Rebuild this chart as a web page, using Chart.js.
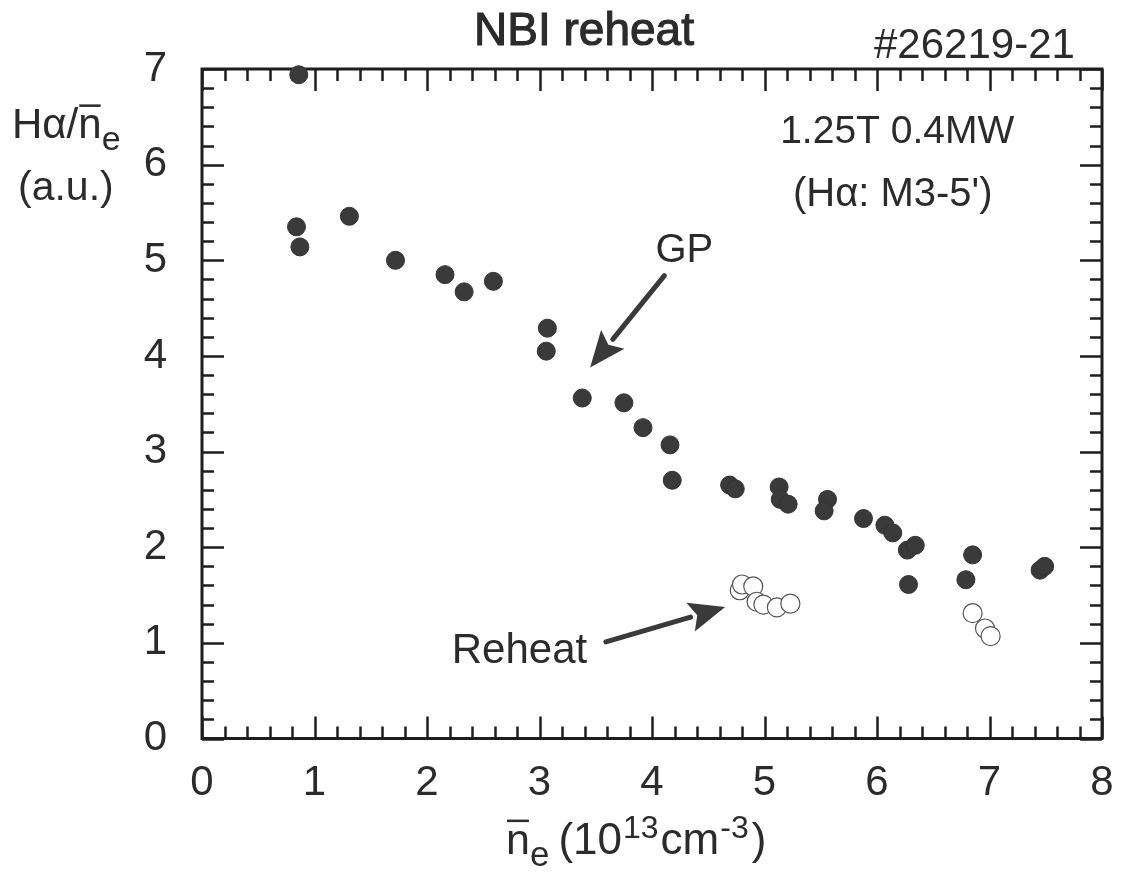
<!DOCTYPE html>
<html>
<head>
<meta charset="utf-8">
<script src="https://cdn.jsdelivr.net/npm/chart.js@4.4.1/dist/chart.umd.min.js"></script>
<style>
  html, body { margin: 0; padding: 0; background: #fff; }
  #wrap { width: 1125px; height: 878px; }
</style>
</head>
<body>
<div id="wrap"><canvas id="hAlpha" width="1125" height="878"></canvas></div>
<script>
// GP discharges (filled) and reheat phase (open), x = line density, y = Halpha / ne
const gpDens = [0.86, 0.84, 0.87, 1.31, 1.72, 2.16, 2.33, 2.59, 3.07, 3.06, 3.38, 3.75, 3.92, 4.16, 4.18, 4.69, 4.74, 5.13, 5.14, 5.21, 5.56, 5.53, 5.88, 6.07, 6.14, 6.27, 6.34, 6.28, 6.85, 6.79, 7.45, 7.49];
const gpHa   = [6.94, 5.35, 5.14, 5.46, 5.00, 4.85, 4.67, 4.78, 4.29, 4.05, 3.56, 3.51, 3.25, 3.07, 2.70, 2.65, 2.61, 2.63, 2.50, 2.45, 2.50, 2.38, 2.30, 2.23, 2.15, 1.97, 2.02, 1.61, 1.92, 1.66, 1.76, 1.80];
const reheatDens = [4.78, 4.80, 4.90, 4.93, 4.99, 5.11, 5.23, 6.85, 6.96, 7.01];
const reheatHa   = [1.55, 1.61, 1.59, 1.43, 1.40, 1.37, 1.41, 1.31, 1.15, 1.07];
const xTicks = [0, 1, 2, 3, 4, 5, 6, 7, 8];
const yTicks = [0, 1, 2, 3, 4, 5, 6, 7];

const FONT = "'Liberation Sans', Arial, Helvetica, sans-serif";
const INK = '#2b2b2b';

const toPoints = (xs, ys) => xs.map((x, i) => ({ x: x, y: ys[i] }));

// arrows inside the frame, in data units
const arrows = [
  { from: [4.11, 4.84], to: [3.45, 3.88] },
  { from: [3.59, 1.01], to: [4.65, 1.375] }
];

function drawArrow(ctx, x1, y1, x2, y2) {
  const ang = Math.atan2(y2 - y1, x2 - x1);
  const headLen = 36, headW = 15;
  const bx = x2 - headLen * Math.cos(ang), by = y2 - headLen * Math.sin(ang);
  ctx.save();
  ctx.strokeStyle = '#3a3a3a';
  ctx.fillStyle = '#3a3a3a';
  ctx.lineWidth = 5;
  ctx.lineCap = 'round';
  ctx.beginPath();
  ctx.moveTo(x1, y1);
  ctx.lineTo(bx, by);
  ctx.stroke();
  ctx.beginPath();
  ctx.moveTo(x2, y2);
  ctx.lineTo(bx + headW * Math.sin(ang), by - headW * Math.cos(ang));
  ctx.lineTo(bx + 7 * Math.cos(ang), by + 7 * Math.sin(ang));
  ctx.lineTo(bx - headW * Math.sin(ang), by + headW * Math.cos(ang));
  ctx.closePath();
  ctx.fill();
  ctx.restore();
}

// draws runs of text: {t, size, dy, bar, gap} left to right from x
function drawRuns(ctx, x, y, runs) {
  runs.forEach(r => {
    ctx.font = r.size + 'px ' + FONT;
    const w = ctx.measureText(r.t).width;
    ctx.fillText(r.t, x, y + (r.dy || 0));
    if (r.bar) {
      ctx.fillRect(x + 1, y + (r.dy || 0) - r.size * 0.8, w - 2, 2.5);
    }
    x += w + (r.gap || 0);
  });
}

const frame = {
  id: 'frame',
  beforeDatasetsDraw(chart) {
    const { ctx, chartArea: a, scales: { x, y } } = chart;
    ctx.save();
    ctx.strokeStyle = '#1e1e1e';
    ctx.lineWidth = 2.5;
    // inward ticks on all four sides, minor every 0.2
    for (let i = 0; i <= 40; i++) {
      const px = Math.round(x.getPixelForValue(i * 0.2)) + 0.5;
      const len = i % 5 === 0 ? 22 : 12;
      ctx.beginPath();
      ctx.moveTo(px, a.bottom); ctx.lineTo(px, a.bottom - len);
      ctx.moveTo(px, a.top); ctx.lineTo(px, a.top + len);
      ctx.stroke();
    }
    for (let i = 0; i <= 35; i++) {
      const py = Math.round(y.getPixelForValue(i * 0.2)) + 0.5;
      const len = i % 5 === 0 ? 22 : 12;
      ctx.beginPath();
      ctx.moveTo(a.left, py); ctx.lineTo(a.left + len, py);
      ctx.moveTo(a.right, py); ctx.lineTo(a.right - len, py);
      ctx.stroke();
    }
    ctx.lineWidth = 3;
    ctx.strokeRect(a.left, a.top, a.right - a.left, a.bottom - a.top);
    ctx.restore();
  },
  afterDraw(chart) {
    const { ctx, scales: { x, y } } = chart;
    ctx.save();
    ctx.fillStyle = INK;
    ctx.strokeStyle = INK;
    ctx.textBaseline = 'alphabetic';

    // headings above the frame
    ctx.font = '46px ' + FONT;
    ctx.textAlign = 'center';
    ctx.lineWidth = 1.1;
    ctx.fillText('NBI reheat', 584, 45);
    ctx.strokeText('NBI reheat', 584, 45);
    ctx.font = '42px ' + FONT;
    ctx.textAlign = 'left';
    ctx.fillText('#26219-21', 874, 58);

    // text inside the frame
    ctx.font = '39px ' + FONT;
    ctx.textAlign = 'right';
    ctx.fillText('1.25T 0.4MW', x.getPixelForValue(7.22), y.getPixelForValue(6.23));
    ctx.textAlign = 'center';
    ctx.font = '40px ' + FONT;
    ctx.fillText('(H\u03B1: M3-5\')', x.getPixelForValue(6.14), y.getPixelForValue(5.57));
    ctx.textAlign = 'left';
    ctx.fillText('GP', x.getPixelForValue(4.03), y.getPixelForValue(4.98));
    ctx.font = '42px ' + FONT;
    ctx.fillText('Reheat', x.getPixelForValue(2.22), y.getPixelForValue(0.79));

    arrows.forEach(ar => drawArrow(ctx,
      x.getPixelForValue(ar.from[0]), y.getPixelForValue(ar.from[1]),
      x.getPixelForValue(ar.to[0]), y.getPixelForValue(ar.to[1])));

    // axis titles
    ctx.textAlign = 'left';
    drawRuns(ctx, 12, 138, [
      { t: 'H\u03B1/', size: 42 },
      { t: 'n', size: 42, bar: true },
      { t: 'e', size: 34, dy: 12 }
    ]);
    ctx.font = '41px ' + FONT;
    ctx.fillText('(a.u.)', 18, 200);

    drawRuns(ctx, 506, 854, [
      { t: 'n', size: 43, bar: true },
      { t: 'e', size: 35, dy: 12, gap: 9 },
      { t: '(10', size: 44, gap: 1 },
      { t: '13', size: 32, dy: -16, gap: 2 },
      { t: 'cm', size: 44, gap: 1 },
      { t: '-3', size: 32, dy: -16, gap: 3 },
      { t: ')', size: 44 }
    ]);
    ctx.restore();
  }
};

new Chart(document.getElementById('hAlpha'), {
  type: 'scatter',
  data: {
    datasets: [
      {
        label: 'GP',
        data: toPoints(gpDens, gpHa),
        pointRadius: 9,
        pointBackgroundColor: '#3a3a3a',
        pointBorderColor: '#333',
        pointBorderWidth: 1,
        clip: false
      },
      {
        label: 'Reheat',
        data: toPoints(reheatDens, reheatHa),
        pointRadius: 9.5,
        pointBackgroundColor: '#fff',
        pointBorderColor: '#555',
        pointBorderWidth: 1.2,
        clip: false
      }
    ]
  },
  options: {
    responsive: false,
    animation: false,
    devicePixelRatio: 1,
    layout: { padding: { left: 0, right: 23, top: 69, bottom: 0 } },
    plugins: {
      legend: { display: false },
      tooltip: { enabled: false }
    },
    scales: {
      x: {
        type: 'linear',
        min: 0,
        max: 8,
        afterFit: s => { s.height = 139.5; s.paddingLeft = 0; s.paddingRight = 0; },
        afterBuildTicks: s => { s.ticks = xTicks.map(v => ({ value: v })); },
        grid: { display: false, drawTicks: false },
        border: { display: false },
        ticks: { color: INK, font: { family: FONT, size: 42 }, padding: 20 }
      },
      y: {
        type: 'linear',
        min: 0,
        max: 7,
        afterFit: s => { s.width = 202; s.paddingTop = 0; s.paddingBottom = 0; },
        afterBuildTicks: s => { s.ticks = yTicks.map(v => ({ value: v })); },
        grid: { display: false, drawTicks: false },
        border: { display: false },
        ticks: { color: INK, font: { family: FONT, size: 42 }, padding: 35 }
      }
    }
  },
  plugins: [frame]
});
</script>
</body>
</html>
